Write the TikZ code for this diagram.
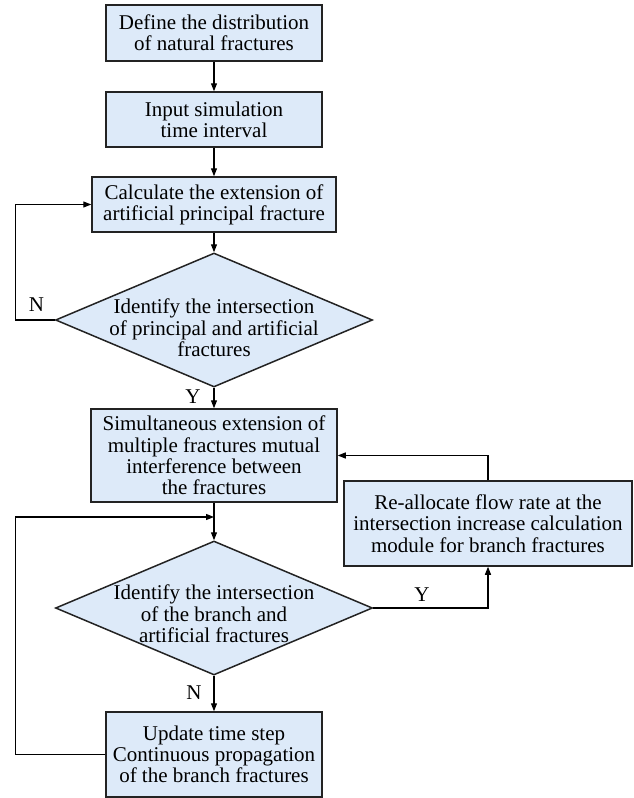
\documentclass[tikz,border=0pt]{standalone}
\usepackage{fontspec}
\setmainfont{Liberation Serif}
\usetikzlibrary{arrows.meta,shapes.geometric}
\definecolor{boxfill}{RGB}{221,234,249}
\definecolor{boxline}{RGB}{35,35,35}
\tikzset{
  box/.style={draw=boxline, fill=boxfill, line width=1.5pt, align=center, inner sep=0pt,
    font=\fontsize{21}{21.3}\selectfont},
  dia/.style={diamond, draw=boxline, fill=boxfill, line width=1.5pt, inner sep=0pt,
    minimum width=317pt, minimum height=134pt},
  diatext/.style={align=center, inner sep=0pt, font=\fontsize{21}{21.3}\selectfont},
  arr/.style={line width=1.3pt, draw=black, -{Triangle[length=8pt,width=6pt]}},
  lbl/.style={inner sep=0pt, font=\fontsize{21}{21}\selectfont}
}
\begin{document}
\begin{tikzpicture}[x=1pt,y=-1pt]
\useasboundingbox (0,0) rectangle (634,798);
\node[box, minimum width=216pt, minimum height=56pt] (b1) at (214,33) {Define the distribution\\of natural fractures};
\node[box, minimum width=216pt, minimum height=55pt] (b2) at (214,119.5) {Input simulation\\time interval};
\node[box, minimum width=244pt, minimum height=55pt] (b3) at (214,204.5) {Calculate the extension of\\artificial principal fracture};
\node[dia] (d1) at (214,320) {};
\node[diatext] (d1t) at (214,328) {Identify the intersection\\of principal and artificial\\fractures};
\node[box, minimum width=246pt, minimum height=93pt] (b4) at (214,455.5) {Simultaneous extension of\\multiple fractures mutual\\interference between\\the fractures};
\node[box, minimum width=288pt, minimum height=85pt] (rb) at (488,523.5) {Re-allocate flow rate at the\\intersection increase calculation\\module for branch fractures};
\node[dia] (d2) at (214,608) {};
\node[diatext] (d2t) at (214,614) {Identify the intersection\\of the branch and\\artificial fractures};
\node[box, minimum width=216pt, minimum height=85pt] (b5) at (214,754.5) {Update time step\\Continuous propagation\\of the branch fractures};
\coordinate (j) at (214,517);

\node[lbl] (n1) at (36.5,305) {N};
\node[lbl] (y1) at (193,397) {Y};
\node[lbl] (y2) at (422,595) {Y};
\node[lbl] (n2) at (194,693) {N};

\draw[arr] (b1) -- (b2);
\draw[arr] (b2) -- (b3);
\draw[arr] (b3) -- (d1);
\draw[arr] (d1.west) -- ++(-39.5,0) |- (b3.west);
\draw[arr] (d1.south) -- (b4.north);
\draw[line width=1.3pt] (b4.south) -- (j);
\draw[arr] (j) -- (d2.north);
\draw[arr] (b5.west) -- ++(-90,0) |- (j);
\draw[arr] (d2.east) -| (rb.south);
\draw[arr] (rb.north) |- (b4.east);
\draw[arr] (d2.south) -- (b5.north);
\end{tikzpicture}
\end{document}
